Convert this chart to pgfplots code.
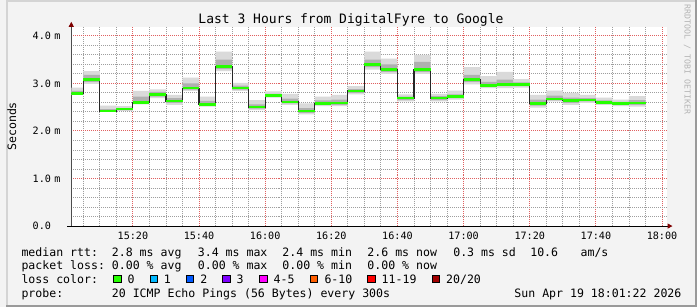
\documentclass[border=0pt]{standalone}
\usepackage{pgfplots}
\pgfplotsset{compat=1.18}
\usepackage{pgfplotstable}
\usepgfplotslibrary{fillbetween}
\usetikzlibrary{arrows.meta}
\usepackage{fontspec}
\setmainfont{DejaVu Sans Mono}
\definecolor{bgc}{HTML}{F3F3F3}
\definecolor{shadeA}{HTML}{D4D4D4}
\definecolor{shadeB}{HTML}{9A9A9A}
\definecolor{smokeA}{HTML}{DADADA}
\definecolor{smokeB}{HTML}{B0B0B0}
\definecolor{lossgreen}{HTML}{26FF00}
\definecolor{lc1}{HTML}{00B8FF}
\definecolor{lc2}{HTML}{0059FF}
\definecolor{lc3}{HTML}{7E00FF}
\definecolor{lc4}{HTML}{FF00FF}
\definecolor{lc5}{HTML}{FF5E00}
\definecolor{lc6}{HTML}{FF0000}
\definecolor{lc7}{HTML}{A10000}
\definecolor{arrowred}{HTML}{7F0000}
\definecolor{gridminor}{HTML}{9E9E9E}
\definecolor{gridmajor}{HTML}{E06060}
\definecolor{wm}{HTML}{B4B4B4}

\pgfplotstableread{
t    lo   q1   med  q3   hi
1.37 2.76 2.77 2.79 2.84 2.91
5    2.99 3.03 3.08 3.18 3.26
10   2.40 2.41 2.42 2.46 2.53
15   2.42 2.44 2.46 2.48 2.52
20   2.56 2.58 2.60 2.72 2.84
25   2.69 2.72 2.76 2.82 2.875
30   2.55 2.59 2.63 2.69 2.76
35   2.84 2.87 2.90 3.00 3.12
40   2.51 2.53 2.56 2.63 2.72
45   3.26 3.30 3.36 3.50 3.67
50   2.84 2.87 2.90 2.95 3.01
55   2.44 2.47 2.50 2.56 2.65
60   2.70 2.72 2.75 2.78 2.83
65   2.55 2.58 2.61 2.68 2.78
70   2.35 2.38 2.42 2.48 2.58
75   2.52 2.55 2.58 2.64 2.72
80   2.52 2.55 2.59 2.66 2.76
85   2.77 2.80 2.84 2.88 2.94
90   3.29 3.34 3.40 3.50 3.67
95   3.20 3.24 3.29 3.40 3.52
100  2.62 2.65 2.69 2.72 2.77
105  3.20 3.24 3.29 3.45 3.60
110  2.62 2.65 2.69 2.73 2.78
115  2.66 2.69 2.72 2.77 2.85
120  2.98 3.03 3.08 3.18 3.34
125  2.90 2.93 2.96 3.03 3.15
130  2.90 2.94 2.98 3.08 3.24
135  2.91 2.94 2.98 3.02 3.09
140  2.49 2.53 2.58 2.66 2.76
145  2.62 2.64 2.67 2.74 2.85
150  2.55 2.59 2.64 2.70 2.80
155  2.59 2.62 2.65 2.69 2.76
160  2.55 2.57 2.60 2.64 2.70
165  2.52 2.55 2.58 2.61 2.66
170  2.51 2.55 2.59 2.65 2.73
175  2.51 2.55 2.59 2.65 2.73
}\smoke

\newcommand{\lgfont}{\fontsize{11.65bp}{13bp}\selectfont}
\newcommand{\axfont}{\fontsize{10.2bp}{12bp}\selectfont}

\begin{document}
\pagecolor{bgc}
\begin{tikzpicture}[x=1bp,y=1bp]
\path (0,0) rectangle (697,310);
\fill[shadeA] (0,308) rectangle (697,310);
\fill[shadeA] (0,0) rectangle (2,310);
\fill[shadeB] (0,0) rectangle (697,2);
\fill[shadeB] (695,0) rectangle (697,310);

\begin{axis}[
  at={(65.9bp,82bp)}, anchor=south west,
  scale only axis, width=600.4bp, height=201bp,
  xmin=1.37, xmax=181.37, ymin=0, ymax=4.19,
  axis background/.style={fill=white},
  axis x line=bottom, axis y line=left,
  every outer x axis line/.append style={-{Triangle[length=5bp,width=5bp,color=arrowred]}, shorten >=-6bp, shorten <=-4bp, draw=black, line width=0.9bp},
  every outer y axis line/.append style={-{Triangle[length=5bp,width=5bp,color=arrowred]}, shorten >=-5bp, draw=black!70, line width=0.9bp},
  xtick={20,40,60,80,100,120,140,160,180},
  xticklabels={15:20,15:40,16:00,16:20,16:40,17:00,17:20,17:40,18:00},
  minor xtick={5,10,15,25,30,35,45,50,55,65,70,75,85,90,95,105,110,115,125,130,135,145,150,155,165,170,175},
  ytick={0,1,2,3,4},
  yticklabels={0.0,1.0 m,2.0 m,3.0 m,4.0 m},
  minor ytick={0.2,0.4,0.6,0.8,1.2,1.4,1.6,1.8,2.2,2.4,2.6,2.8,3.2,3.4,3.6,3.8},
  major tick length=0pt, minor tick length=0pt,
  grid=both,
  minor grid style={draw=gridminor, line width=0.9bp, dash pattern=on 1bp off 1bp},
  major grid style={draw=gridmajor, line width=0.9bp, dash pattern=on 1bp off 1bp},
  tick label style={font=\axfont},
  yticklabel style={anchor=east, inner sep=0pt, text width=30.7bp, align=left, xshift=-8bp},
  xticklabel style={anchor=base, inner sep=0pt, yshift=-13.7bp},
]
\addplot[const plot, draw=none, name path=hi, forget plot] table[x=t,y=hi]{\smoke};
\addplot[const plot, draw=none, name path=lo, forget plot] table[x=t,y=lo]{\smoke};
\addplot[smokeA, forget plot] fill between[of=hi and lo];
\addplot[const plot, draw=none, name path=qh, forget plot] table[x=t,y=q3]{\smoke};
\addplot[const plot, draw=none, name path=ql, forget plot] table[x=t,y=q1]{\smoke};
\addplot[smokeB, forget plot] fill between[of=qh and ql];
\addplot[const plot, draw=black!85, line width=1.1bp, mark=none] table[x=t,y=med]{\smoke};
\addplot[jump mark left, draw=lossgreen, line width=2.7bp, mark=none] table[x=t,y=med]{\smoke};
\end{axis}

% title and labels
\node[anchor=base, inner sep=0pt, font=\fontsize{13.1bp}{15bp}\selectfont] at (348,286) {Last 3 Hours from DigitalFyre to Google};
\node[rotate=90, inner sep=0pt, font=\lgfont] at (6,182.5) {Seconds};
\node[rotate=-90, inner sep=0pt, text=wm, font=\fontsize{8.3bp}{10bp}\selectfont] at (687.3,250) {RRDTOOL / TOBI OETIKER};

% legend
\begin{scope}[every node/.style={anchor=base west, inner sep=0pt, font=\lgfont}]
\node at (15.5,51.7) {median rtt:};
\node at (106.7,51.7) {2.8 ms avg};
\node at (193.4,51.7) {3.4 ms max};
\node at (278.7,51.7) {2.4 ms min};
\node at (364.4,51.7) {2.6 ms now};
\node at (451,51.7) {0.3 ms sd};
\node at (528.7,51.7) {10.6};
\node at (579.4,51.7) {am/s};

\node at (15.5,37.7) {packet loss:};
\node at (106.7,37.7) {0.00 \% avg};
\node at (193.4,37.7) {0.00 \% max};
\node at (278.7,37.7) {0.00 \% min};
\node at (364.4,37.7) {0.00 \% now};

\node at (15.5,23.7) {loss color:};
\node at (122.5,23.7) {0};
\node at (159.1,23.7) {1};
\node at (195.8,23.7) {2};
\node at (232.5,23.7) {3};
\node at (269.8,23.7) {4-5};
\node at (321.1,23.7) {6-10};
\node at (378.8,23.7) {11-19};
\node at (443.8,23.7) {20/20};

\node at (15.5,9.7) {probe:};
\node at (106.7,9.7) {20 ICMP Echo Pings (56 Bytes) every 300s};
\node at (512.7,9.7) {Sun Apr 19 18:01:22 2026};
\end{scope}
\begin{scope}[line width=0.8bp]
\filldraw[fill=lossgreen] (108.7,25.3) rectangle ++(7.3,7.3);
\filldraw[fill=lc1] (145.3,25.3) rectangle ++(7.3,7.3);
\filldraw[fill=lc2] (182,25.3) rectangle ++(7.3,7.3);
\filldraw[fill=lc3] (218.7,25.3) rectangle ++(7.3,7.3);
\filldraw[fill=lc4] (256,25.3) rectangle ++(7.3,7.3);
\filldraw[fill=lc5] (307.3,25.3) rectangle ++(7.3,7.3);
\filldraw[fill=lc6] (365,25.3) rectangle ++(7.3,7.3);
\filldraw[fill=lc7] (430,25.3) rectangle ++(7.3,7.3);
\end{scope}
\end{tikzpicture}
\end{document}
